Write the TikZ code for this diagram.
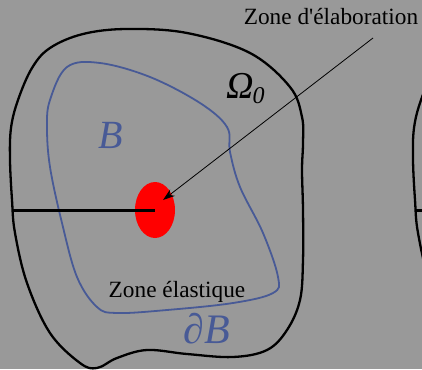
\documentclass[tikz,border=0pt]{standalone}
\usepackage{fontspec}
\setmainfont{Liberation Serif}
\usetikzlibrary{arrows.meta,shapes.geometric}
\definecolor{bg}{RGB}{153,153,153}
\definecolor{bblue}{RGB}{72,90,150}
\begin{document}
\begin{tikzpicture}[x=1pt,y=-1pt,
  outer/.style={draw=black,line width=2.3pt},
  inner/.style={draw=bblue,line width=1.8pt},
  lbl/.style={inner sep=0pt,anchor=base},
  crack/.style={line width=3pt,black}]
\useasboundingbox (0,0) rectangle (422,369);
\fill[bg] (0,0) rectangle (422,369);
\clip (0,0) rectangle (422,369);
\def\outerpath{plot[smooth cycle,tension=0.6] coordinates {
 (10,160) (11,128) (18,100) (32,68) (50,48) (83,34) (127,29) (187,33) (250,53) (290,87) (302,117)
 (303,143) (302,170) (303,210) (303,260) (300,300) (287,330) (267,350)
 (233,357) (187,354) (147,350) (117,358) (97,368) (80,363) (50,333)
 (27,283) (15,233) (12,200)}}
% outer domain
\draw[outer] \outerpath;
% partial second domain on right edge
\begin{scope}[xshift=403pt]
\draw[outer] \outerpath;
\coordinate (c2a) at (13,210);
\coordinate (c2b) at (157,210);
\end{scope}
\draw[crack] (c2a) -- (c2b);
% inner contour B
\draw[inner] plot[smooth cycle,tension=0.6] coordinates {
 (50,100) (67,67) (100,63) (150,77) (200,103) (227,127) (230,152)
 (240,187) (263,233) (278,277) (273,293) (233,303) (167,310) (117,313)
 (97,307) (77,277) (62,223) (50,167) (47,127)};
% process zone
\node[ellipse,fill=red,minimum width=40pt,minimum height=56pt,inner sep=0pt] (ez) at (155,210) {};
\coordinate (cl) at (13,210);
\coordinate (tip) at (155,210);
\draw[crack] (cl) -- (tip);
% labels
\node[lbl,font=\fontsize{23.3}{24}\selectfont] (zel) at (331,25) {Zone d\textquotesingle élaboration};
\coordinate (astart) at (373,38);
\coordinate (aend) at (163,200);
\draw[-{Stealth[length=12pt,width=8pt]},line width=0.8pt] (astart) -- (aend);
\node[lbl,font=\fontsize{23.3}{24}\selectfont] (zelas) at (177,297) {Zone élastique};
\node[lbl,text=bblue,font=\fontsize{40}{40}\selectfont\itshape] (lb) at (111,148) {B};
\node[lbl,text=bblue,font=\fontsize{42}{42}\selectfont\itshape] (ldb) at (207,343) {∂B};
\node[lbl,anchor=base west,font=\fontsize{38}{38}\selectfont\itshape] (lom) at (226,98) {Ω\kern-1pt\raisebox{-5pt}{\fontsize{24}{24}\selectfont 0}};
\end{tikzpicture}
\end{document}
